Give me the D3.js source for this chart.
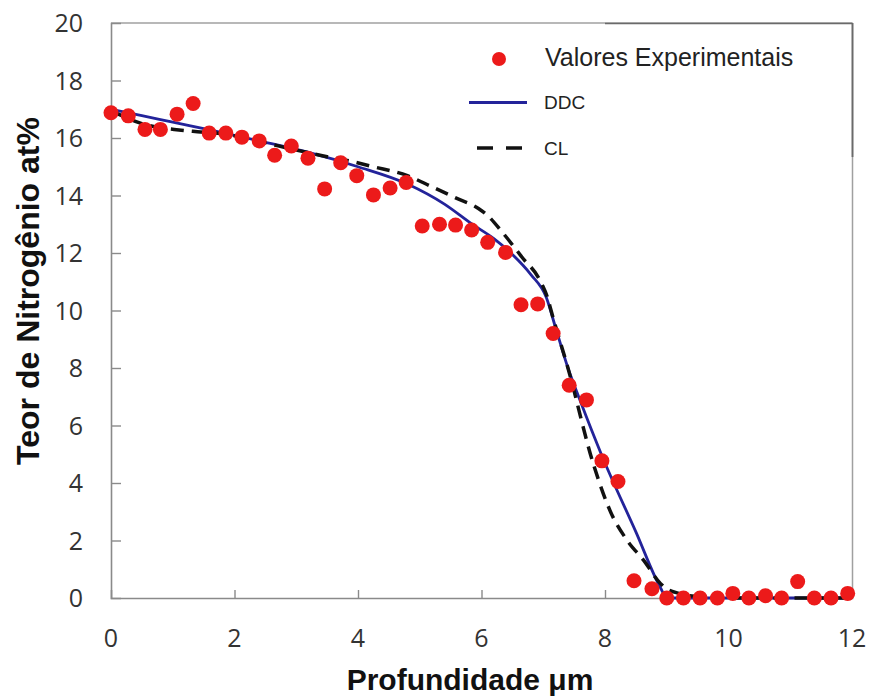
<!DOCTYPE html>
<html><head><meta charset="utf-8">
<script src="https://cdn.jsdelivr.net/npm/d3@7"></script>
<style>body{margin:0;background:#fff}svg{display:block}</style>
</head><body><svg id="c" width="870" height="699"></svg>
<script>
// Experimental values
const expX = [0, 0.28, 0.55, 0.8, 1.07, 1.33, 1.59, 1.86, 2.12, 2.4, 2.65, 2.92, 3.19, 3.46, 3.72, 3.98, 4.25, 4.52, 4.78, 5.04, 5.32, 5.58, 5.84, 6.1, 6.39, 6.64, 6.91, 7.16, 7.42, 7.7, 7.95, 8.21, 8.47, 8.76, 9.0, 9.27, 9.54, 9.82, 10.07, 10.33, 10.6, 10.86, 11.12, 11.39, 11.66, 11.93];
const expY = [16.88, 16.77, 16.3, 16.3, 16.83, 17.2, 16.17, 16.17, 16.03, 15.9, 15.4, 15.72, 15.3, 14.23, 15.14, 14.69, 14.02, 14.26, 14.45, 12.94, 13.0, 12.97, 12.8, 12.37, 12.02, 10.2, 10.23, 9.2, 7.4, 6.89, 4.77, 4.05, 0.6, 0.32, 0.0, 0.0, 0.0, 0.0, 0.16, 0.0, 0.08, 0.0, 0.57, 0.0, 0.0, 0.16];
// DDC model
const ddcX = [0, 0.5, 1.0, 1.6, 2.4, 3.2, 4.0, 4.8, 5.4, 5.85, 6.2, 6.5, 6.8, 7.05, 7.2, 7.4, 7.6, 7.95, 8.5, 8.9, 9.0, 10, 11, 12];
const ddcY = [17.0, 16.78, 16.55, 16.28, 15.9, 15.5, 15.0, 14.4, 13.7, 13.0, 12.5, 11.95, 11.25, 10.45, 9.4, 8.0, 6.85, 4.95, 2.3, 0.35, 0.0, 0.0, 0.0, 0.0];
// CL model
const clX = [0, 0.5, 1.1, 1.4, 1.8, 2.4, 3.0, 3.5, 3.8, 4.25, 4.8, 5.2, 5.6, 5.95, 6.1, 6.33, 6.65, 6.97, 7.08, 7.12, 7.4, 7.82, 8.1, 8.36, 8.63, 8.9, 9.0, 9.2, 9.55, 10.0, 11, 12];
const clY = [16.95, 16.5, 16.28, 16.22, 16.15, 15.88, 15.58, 15.35, 15.23, 15.0, 14.69, 14.3, 13.9, 13.55, 13.3, 12.74, 11.87, 10.95, 10.37, 10.05, 8.0, 4.6, 2.95, 2.0, 1.3, 0.5, 0.32, 0.16, 0.04, 0.0, 0.0, 0.0];
const xTicks = [0, 2, 4, 6, 8, 10, 12];
const yTicks = [0, 2, 4, 6, 8, 10, 12, 14, 16, 18, 20];
const legendLabels = ["Valores Experimentais", "DDC", "CL"];
const xTitle = "Profundidade \u03bcm";
const yTitle = "Teor de Nitrogênio at%";

const svg = d3.select("#c");
const L = 111, R = 852.5, T = 23, B = 598;
const x = d3.scaleLinear().domain([0, 12]).range([L, R - 0.5]);
const y = d3.scaleLinear().domain([0, 20]).range([B, T]);

const axisCol = "#8a8a8a";
// frame
svg.append("line").attr("x1", L).attr("x2", R).attr("y1", T).attr("y2", T).attr("stroke", "#a0a0a0").attr("stroke-width", 1.5);
svg.append("line").attr("x1", R).attr("x2", R).attr("y1", T).attr("y2", B).attr("stroke", "#a0a0a0").attr("stroke-width", 1.5);
// darker legend-box edge overlay
svg.append("line").attr("x1", 605).attr("x2", R).attr("y1", T + 0.5).attr("y2", T + 0.5).attr("stroke", "#6a6a6a").attr("stroke-width", 1.5);
svg.append("line").attr("x1", R).attr("x2", R).attr("y1", T).attr("y2", 157).attr("stroke", "#6a6a6a").attr("stroke-width", 1.8);

// axes
const yAxis = d3.axisRight(y).tickValues(yTicks.filter(d => d > 0 && d < 20)).tickSize(10).tickFormat("");
const gy = svg.append("g").attr("transform", `translate(${L},0)`).call(yAxis);
const xAxis = d3.axisTop(x).tickValues(xTicks.filter(d => d > 0)).tickSize(8).tickFormat("");
const gx = svg.append("g").attr("transform", `translate(0,${B})`).call(xAxis);
[gx, gy].forEach(g => {
  g.select(".domain").attr("stroke", axisCol).attr("stroke-width", 1.6);
  g.selectAll(".tick line").attr("stroke", axisCol).attr("stroke-width", 1.4);
});

// tick labels
const tickFont = "'Open Sans', 'DejaVu Sans', sans-serif";
svg.append("g").selectAll("text").data(yTicks).join("text")
  .attr("x", 83).attr("y", d => y(d)).attr("dy", "0.36em")
  .attr("text-anchor", "end").attr("font-family", tickFont).attr("font-size", 25)
  .attr("fill", "#333").text(d => d);
svg.append("g").selectAll("text").data(xTicks).join("text")
  .attr("x", d => x(d)).attr("y", 647)
  .attr("text-anchor", "middle").attr("font-family", tickFont).attr("font-size", 25)
  .attr("fill", "#333").text(d => d);

// titles
svg.append("text").attr("x", 470).attr("y", 690).attr("text-anchor", "middle")
  .attr("font-family", "'Liberation Sans', Arial, sans-serif").attr("font-weight", "bold")
  .attr("font-size", 30).attr("fill", "#111").text(xTitle);
svg.append("text").attr("transform", "translate(39,291) rotate(-90)").attr("text-anchor", "middle")
  .attr("font-family", "'Liberation Sans', Arial, sans-serif").attr("font-weight", "bold")
  .attr("font-size", 32).attr("fill", "#111").text(yTitle);

// curves
const ddc = ddcX.map((d, i) => [d, ddcY[i]]);
const cl = clX.map((d, i) => [d, clY[i]]);
const line = d3.line().x(d => x(d[0])).y(d => y(d[1])).curve(d3.curveMonotoneX);
const blue = "#23239a";
svg.append("path").datum(ddc).attr("d", line).attr("fill", "none").attr("stroke", blue).attr("stroke-width", 2.8);
svg.append("path").datum(cl).attr("d", line).attr("fill", "none").attr("stroke", "#111").attr("stroke-width", 3.5).attr("stroke-dasharray", "13,8");

// dots
const red = "#ec1a1a";
svg.append("g").selectAll("circle").data(expX).join("circle")
  .attr("cx", d => x(d)).attr("cy", (d, i) => y(expY[i])).attr("r", 7.5).attr("fill", red);

// legend
const lf = "'Liberation Sans', Arial, sans-serif";
svg.append("circle").attr("cx", 499).attr("cy", 59).attr("r", 7).attr("fill", red);
svg.append("text").attr("x", 545).attr("y", 66).attr("font-family", lf).attr("font-size", 25).attr("fill", "#222").text(legendLabels[0]);
svg.append("line").attr("x1", 469).attr("x2", 527).attr("y1", 102.5).attr("y2", 102.5).attr("stroke", blue).attr("stroke-width", 2.8);
svg.append("text").attr("x", 544).attr("y", 108.5).attr("font-family", lf).attr("font-size", 19).attr("fill", "#222").text(legendLabels[1]);
svg.append("line").attr("x1", 477).attr("x2", 523).attr("y1", 148).attr("y2", 148).attr("stroke", "#111").attr("stroke-width", 3.5).attr("stroke-dasharray", "16,13");
svg.append("text").attr("x", 544).attr("y", 155).attr("font-family", lf).attr("font-size", 19).attr("fill", "#222").text(legendLabels[2]);
</script>
</body></html>
